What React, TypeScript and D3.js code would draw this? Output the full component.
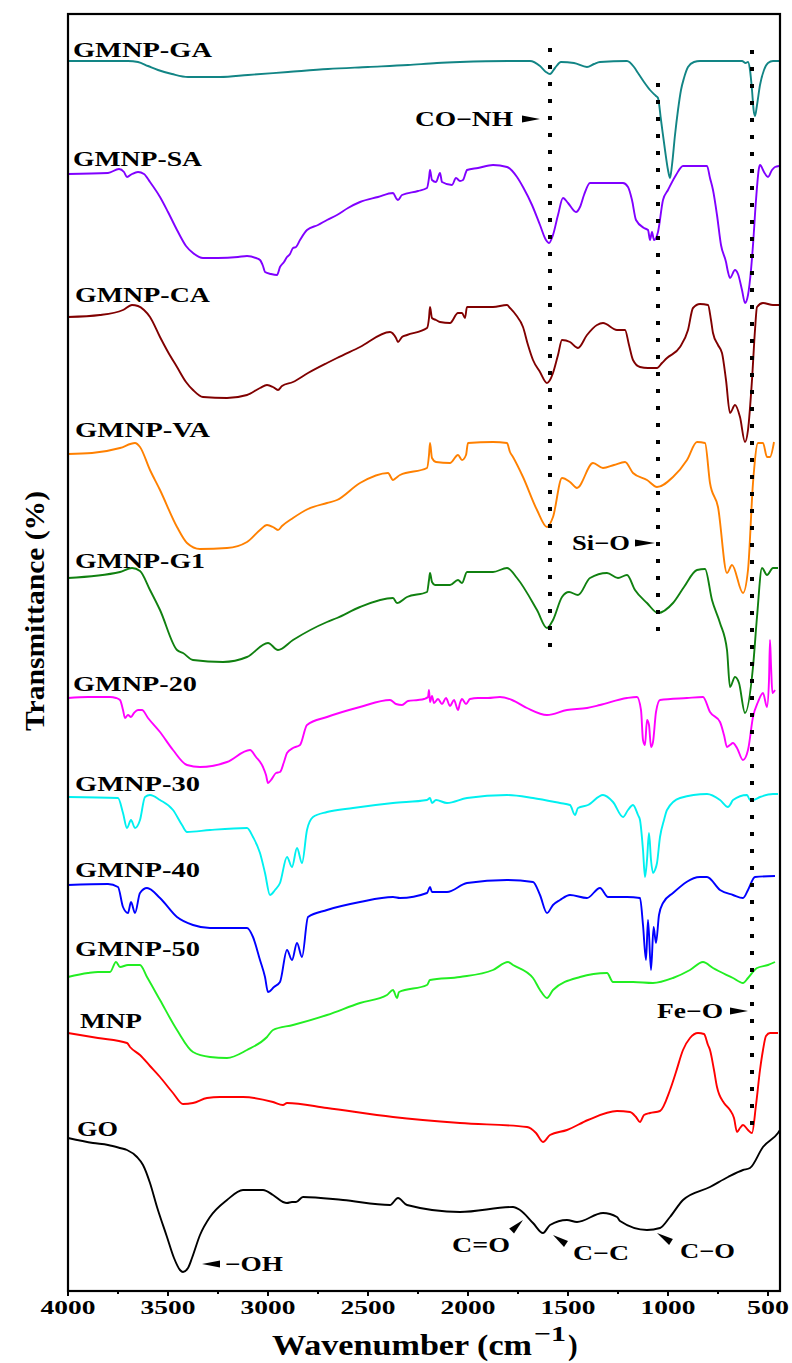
import React from "react";
import * as d3 from "d3";

// ---------- data (wavenumber cm^-1, stacked transmittance a.u.) ----------
const majorTicks = [4000, 3500, 3000, 2500, 2000, 1500, 1000, 500];
const minorTicks = [3750, 3250, 2750, 2250, 1750, 1250, 750];

const seriesNames = ["GMNP-GA", "GMNP-SA", "GMNP-CA", "GMNP-VA", "GMNP-G1", "GMNP-20", "GMNP-30", "GMNP-40", "GMNP-50", "MNP", "GO"];
const seriesColors = ["#128585", "#8000ff", "#800000", "#ff8000", "#108010", "#ff00ff", "#00f0f0", "#0000ff", "#22ee22", "#ff0000", "#000000"];

const GA: [number, number][] = [[4000,1230],[3900,1230],[3700,1230],[3650,1229],[3600,1225],[3550,1221],[3480,1217],[3400,1214],[3300,1214],[3240,1214],[3100,1216],[2900,1219],[2700,1222],[2500,1224],[2300,1226],[2155,1228],[2040,1229],[1800,1230],[1690,1230],[1640,1225],[1610,1219],[1590,1217],[1565,1223],[1535,1229],[1470,1228],[1405,1224],[1370,1227],[1340,1229],[1205,1230],[1170,1224],[1150,1218],[1120,1209],[1090,1201],[1060,1195],[1050,1193],[1035,1171],[1015,1141],[1000,1121],[990,1113],[980,1126],[965,1156],[950,1181],[935,1201],[920,1213],[900,1224],[870,1229],[840,1230],[630,1230],[612,1228],[600,1229],[590,1221],[580,1201],[572,1181],[565,1175],[555,1186],[540,1206],[520,1221],[500,1228],[475,1230],[445,1230]];

const SA: [number, number][] = [[4000,1117],[3800,1118],[3745,1122],[3720,1119],[3705,1114],[3680,1117],[3650,1119],[3620,1117],[3590,1109],[3540,1094],[3500,1079],[3455,1061],[3410,1045],[3375,1038],[3325,1033],[3250,1033],[3150,1034],[3105,1035],[3060,1033],[3040,1031],[3025,1025],[3015,1019],[2985,1017],[2955,1016],[2940,1024],[2920,1029],[2905,1034],[2890,1037],[2875,1043],[2860,1044],[2840,1051],[2805,1061],[2750,1066],[2705,1071],[2655,1076],[2600,1083],[2540,1089],[2450,1094],[2375,1098],[2360,1093],[2350,1091],[2330,1096],[2250,1100],[2205,1103],[2195,1113],[2190,1121],[2180,1111],[2160,1109],[2140,1118],[2130,1109],[2080,1106],[2060,1113],[2040,1110],[2025,1111],[2010,1119],[2005,1121],[1950,1123],[1875,1126],[1805,1124],[1755,1114],[1725,1104],[1680,1086],[1640,1066],[1610,1051],[1595,1048],[1575,1056],[1550,1076],[1525,1093],[1500,1088],[1460,1079],[1440,1084],[1420,1096],[1390,1108],[1300,1108],[1225,1108],[1200,1104],[1180,1091],[1160,1071],[1120,1063],[1100,1061],[1090,1051],[1080,1059],[1070,1051],[1050,1059],[1025,1091],[1000,1101],[960,1116],[925,1125],[860,1125],[805,1125],[790,1113],[775,1101],[755,1076],[735,1046],[710,1029],[700,1019],[690,1013],[665,1021],[650,1017],[630,1001],[615,988],[600,996],[585,1021],[575,1046],[560,1091],[545,1123],[540,1126],[520,1119],[500,1114],[480,1121],[465,1124],[445,1125]];

const CA: [number, number][] = [[4000,974],[3840,976],[3725,981],[3680,986],[3650,985],[3620,981],[3590,974],[3540,954],[3500,939],[3455,924],[3410,909],[3375,901],[3325,894],[3205,893],[3105,896],[3040,903],[3005,906],[2975,904],[2950,901],[2930,905],[2875,909],[2800,918],[2705,928],[2655,933],[2540,944],[2390,959],[2360,953],[2350,949],[2330,954],[2305,956],[2205,963],[2195,973],[2190,984],[2180,973],[2160,971],[2140,969],[2090,968],[2050,978],[2030,978],[2015,973],[2005,984],[1875,984],[1805,986],[1790,983],[1760,976],[1725,964],[1700,946],[1675,931],[1640,919],[1605,908],[1590,911],[1575,918],[1550,936],[1530,951],[1490,949],[1450,943],[1405,956],[1355,966],[1325,968],[1255,961],[1215,961],[1195,946],[1175,931],[1140,924],[1100,923],[1055,923],[1030,928],[1005,933],[940,944],[900,961],[875,983],[840,987],[800,986],[785,971],[775,958],[750,946],[730,938],[710,911],[690,878],[665,886],[640,874],[615,849],[600,861],[580,911],[565,961],[555,984],[525,988],[475,986],[445,986]];

const VA: [number, number][] = [[4000,837],[3880,838],[3740,843],[3665,848],[3640,844],[3590,821],[3540,801],[3455,764],[3405,748],[3340,742],[3205,743],[3105,749],[3040,761],[3005,766],[2975,764],[2950,761],[2930,765],[2875,773],[2800,782],[2705,788],[2655,791],[2540,808],[2400,818],[2375,811],[2360,813],[2340,816],[2205,823],[2195,836],[2190,848],[2180,833],[2160,829],[2090,828],[2050,836],[2030,831],[2010,836],[2000,848],[1875,849],[1805,848],[1790,839],[1775,834],[1725,814],[1655,781],[1605,764],[1575,774],[1530,813],[1490,809],[1455,803],[1375,828],[1325,823],[1270,826],[1215,829],[1175,818],[1105,811],[1055,804],[975,814],[905,831],[855,849],[815,848],[790,808],[750,784],[705,718],[680,726],[625,698],[600,721],[575,808],[550,848],[525,848],[505,834],[490,834],[470,849]];

const G1: [number, number][] = [[4000,713],[3740,719],[3680,723],[3640,720],[3590,701],[3540,681],[3455,641],[3425,638],[3375,631],[3225,629],[3105,634],[3000,648],[2950,641],[2875,651],[2705,669],[2655,673],[2540,684],[2375,693],[2355,688],[2305,694],[2205,699],[2195,711],[2190,718],[2180,709],[2165,706],[2090,706],[2050,711],[2030,708],[2005,719],[1875,719],[1805,723],[1755,713],[1655,681],[1605,663],[1575,671],[1530,694],[1495,699],[1450,696],[1390,713],[1305,718],[1250,713],[1205,716],[1165,701],[1105,688],[1050,678],[975,688],[920,704],[855,721],[815,722],[780,691],[740,668],[705,641],[690,604],[665,614],[645,608],[615,578],[575,624],[555,674],[530,723],[505,716],[475,723],[450,723]];

const G20: [number, number][] = [[4000,593],[3900,594],[3790,594],[3760,593],[3740,591],[3725,581],[3715,573],[3700,576],[3685,574],[3670,578],[3650,581],[3630,581],[3600,573],[3540,559],[3475,541],[3405,526],[3340,524],[3205,529],[3090,541],[3060,534],[3025,524],[3010,516],[3000,508],[2985,511],[2960,518],[2940,519],[2920,529],[2905,538],[2875,543],[2840,546],[2805,566],[2705,574],[2540,584],[2390,591],[2360,587],[2330,586],[2300,590],[2250,591],[2220,592],[2200,594],[2195,601],[2190,589],[2180,595],[2170,588],[2150,592],[2130,587],[2110,593],[2090,585],[2070,591],[2050,581],[2040,588],[2030,592],[2010,587],[1990,592],[1950,593],[1900,593],[1840,594],[1780,591],[1705,583],[1605,576],[1505,581],[1405,583],[1340,586],[1205,593],[1155,594],[1135,581],[1125,551],[1115,546],[1105,571],[1095,566],[1085,544],[1075,549],[1060,579],[1040,591],[905,593],[825,594],[790,579],[740,569],[720,556],[705,544],[690,546],[675,548],[655,543],[625,531],[600,541],[575,574],[550,589],[525,598],[505,584],[495,611],[490,651],[485,626],[478,598],[465,601]];

const G30: [number, number][] = [[4000,494],[3750,493],[3725,478],[3705,463],[3685,471],[3665,463],[3640,471],[3615,494],[3590,496],[3540,491],[3475,481],[3430,466],[3405,459],[3290,461],[3105,463],[3075,454],[3040,438],[3015,418],[2990,396],[2965,401],[2940,408],[2905,434],[2880,424],[2855,443],[2830,428],[2805,461],[2775,474],[2705,479],[2575,483],[2375,488],[2205,491],[2190,493],[2180,488],[2160,491],[2105,488],[2005,493],[1805,496],[1675,493],[1540,488],[1490,486],[1465,476],[1450,483],[1400,486],[1325,496],[1275,489],[1225,474],[1200,481],[1175,486],[1150,476],[1140,471],[1125,441],[1115,414],[1105,431],[1095,458],[1085,431],[1075,418],[1065,421],[1055,428],[1040,454],[1020,471],[1005,481],[940,493],[805,497],[740,491],[700,484],[690,486],[675,491],[605,496],[590,491],[575,491],[540,494],[475,497],[450,497]];

const G40: [number, number][] = [[4000,406],[3800,407],[3750,404],[3725,384],[3700,378],[3685,389],[3665,378],[3640,398],[3605,403],[3540,393],[3455,374],[3375,366],[3290,363],[3105,363],[3075,354],[3040,331],[3015,314],[3000,299],[2970,304],[2940,309],[2905,341],[2880,331],[2855,348],[2830,334],[2800,374],[2705,381],[2540,389],[2375,394],[2340,393],[2205,398],[2190,404],[2180,399],[2105,399],[2005,408],[1805,411],[1675,409],[1640,396],[1605,378],[1575,386],[1540,391],[1490,396],[1405,393],[1340,403],[1300,394],[1205,394],[1140,393],[1125,366],[1110,331],[1100,371],[1085,321],[1072,364],[1060,348],[1045,376],[1025,388],[975,398],[840,414],[805,414],[740,401],[675,396],[625,393],[600,401],[565,414],[465,415]];

const G50: [number, number][] = [[4000,314],[3900,318],[3850,319],[3790,319],[3760,329],[3740,324],[3700,326],[3640,326],[3605,314],[3540,291],[3455,261],[3375,239],[3290,234],[3205,233],[3105,241],[3005,254],[2975,261],[2875,266],[2705,276],[2540,288],[2405,296],[2375,301],[2355,293],[2345,299],[2205,306],[2190,311],[2040,314],[1875,321],[1800,329],[1775,326],[1675,313],[1640,301],[1605,293],[1575,301],[1440,314],[1305,318],[1275,309],[1175,309],[1075,308],[975,313],[890,321],[825,329],[775,323],[675,313],[625,308],[600,313],[555,323],[500,326],[465,329]];

const MNP: [number, number][] = [[4000,258],[3850,253],[3705,248],[3690,244],[3640,236],[3590,225],[3540,214],[3475,198],[3425,187],[3375,188],[3305,193],[3240,194],[3125,194],[2975,189],[2925,186],[2905,188],[2705,183],[2375,174],[2040,168],[1705,164],[1660,158],[1625,149],[1590,156],[1505,161],[1400,171],[1255,180],[1190,179],[1160,174],[1140,169],[1120,176],[1090,178],[1040,180],[990,201],[960,219],[925,241],[890,253],[850,258],[820,257],[800,246],[790,241],[770,221],[755,204],[720,188],[690,181],[670,173],[655,159],[640,163],[625,166],[600,161],[580,158],[560,186],[540,221],[525,241],[510,255],[490,258],[450,258]];

const GO: [number, number][] = [[4000,153],[3875,148],[3800,146],[3740,143],[3705,141],[3655,134],[3625,126],[3590,108],[3555,84],[3505,54],[3470,33],[3440,21],[3425,19],[3400,23],[3380,33],[3340,56],[3290,74],[3205,91],[3125,101],[3025,101],[2975,96],[2925,89],[2905,88],[2880,89],[2860,89],[2825,94],[2625,91],[2390,86],[2350,93],[2305,86],[2040,79],[1775,84],[1740,81],[1675,68],[1625,58],[1590,66],[1505,71],[1455,69],[1325,78],[1255,74],[1240,70],[1105,61],[1040,63],[990,74],[925,91],[790,104],[700,114],[625,121],[590,123],[525,144],[450,158],[440,161]];

const seriesData = [GA, SA, CA, VA, G1, G20, G30, G40, G50, MNP, GO];

// marker lines (wavenumber) and their vertical extent (a.u.)
const markerWn = [1590, 1050, 580];
const markerTop = [1243, 1208, 1241];
const markerBottom = [638, 651, 156];

// ---------- layout ----------
const W = 792, H = 1363;
const L = 68, R = 780, T = 14, B = 1291;
const labelStartWn = [3975, 3975, 3965, 3965, 3965, 3975, 3965, 3965, 3965, 3940, 3955];
const labelBaseV = [1234, 1125, 989, 854, 723, 600, 500, 414, 335, 263, 155];
const labelLen = [139, 129, 135, 135, 130, 124, 125, 125, 125, 62, 41];

const x = d3.scaleLinear().domain([4000, 440]).range([L, R]);
const y = d3.scaleLinear().domain([0, 1277]).range([B, T]);

const serif = "'Liberation Serif', 'Times New Roman', serif";

function tri(tipX: number, tipY: number, baseX: number, baseY: number, hw: number) {
  const dx = tipX - baseX, dy = tipY - baseY;
  const len = Math.hypot(dx, dy) || 1;
  const nx = -dy / len, ny = dx / len;
  return `M${tipX},${tipY}L${baseX + nx * hw},${baseY + ny * hw}L${baseX - nx * hw},${baseY - ny * hw}Z`;
}

export default function App() {
  const line = d3
    .line<[number, number]>()
    .x((d) => x(d[0]))
    .y((d) => y(d[1]))
    .curve(d3.curveMonotoneX);

  const ann = [
    { t: "CO\u2212NH", s: 2265, e: 1775, v: 1165, tip: [1640, 1172], base: [1730, 1172] },
    { t: "Si\u2212O", s: 1480, e: 1190, v: 741, tip: [1065, 748], base: [1165, 748] },
    { t: "Fe\u2212O", s: 1055, e: 725, v: 273, tip: [600, 280], base: [690, 280] },
    { t: "\u2212OH", s: 3215, e: 2925, v: 20, tip: [3330, 27], base: [3240, 27] },
    { t: "C=O", s: 2080, e: 1790, v: 39, tip: [1725, 71], base: [1782, 60] },
    { t: "C\u2212C", s: 1475, e: 1195, v: 31, tip: [1575, 56], base: [1510, 47] },
    { t: "C\u2212O", s: 940, e: 665, v: 33, tip: [1055, 58], base: [985, 49] },
  ];

  return (
    <svg width={W} height={H} style={{ position: "absolute", left: 0, top: 0, background: "#fff" }} fontFamily={serif}>
      <rect x={0} y={0} width={W} height={H} fill="#fff" />
      {seriesData.map((d, i) => (
        <path key={i} d={line(d) || ""} fill="none" stroke={seriesColors[i]} strokeWidth={1.9} strokeLinejoin="round" />
      ))}
      {markerWn.map((w, i) => (
        <line key={i} x1={x(w)} x2={x(w)} y1={y(markerTop[i])} y2={y(markerBottom[i])} stroke="#000" strokeWidth={4} strokeDasharray="4 13" />
      ))}
      {seriesNames.map((n, i) => (
        <text key={n} x={x(labelStartWn[i])} y={y(labelBaseV[i])} fontSize={22} fontWeight="bold" textLength={labelLen[i]} lengthAdjust="spacingAndGlyphs" fill="#000">
          {n}
        </text>
      ))}
      {ann.map((a, i) => (
        <g key={i}>
          <text x={x(a.s)} y={y(a.v)} fontSize={21} fontWeight="bold" textLength={x(a.e) - x(a.s)} lengthAdjust="spacingAndGlyphs">
            {a.t}
          </text>
          <path d={tri(x(a.tip[0]), y(a.tip[1]), x(a.base[0]), y(a.base[1]), 3.5)} fill="#000" />
        </g>
      ))}
      <rect x={L} y={T} width={R - L} height={B - T} fill="none" stroke="#000" strokeWidth={2.2} />
      {majorTicks.map((t) => (
        <g key={t}>
          <line x1={x(t)} x2={x(t)} y1={B} y2={B + 5} stroke="#000" strokeWidth={2} />
          <text x={x(t)} y={B + 23} textAnchor="middle" fontSize={18} fontWeight="bold" textLength={t >= 1000 ? 55 : 42} lengthAdjust="spacingAndGlyphs">
            {t}
          </text>
        </g>
      ))}
      {minorTicks.map((t) => (
        <line key={t} x1={x(t)} x2={x(t)} y1={B} y2={B + 3} stroke="#000" strokeWidth={2} />
      ))}
      <text x={272} y={1355} fontSize={29} fontWeight="bold" textLength={260} lengthAdjust="spacingAndGlyphs">
        Wavenumber (cm
      </text>
      <text x={534} y={1341} fontSize={22} fontWeight="bold" textLength={32} lengthAdjust="spacingAndGlyphs">
        {"\u22121"}
      </text>
      <text x={568} y={1355} fontSize={29} fontWeight="bold">
        )
      </text>
      <text transform={`translate(44,611) rotate(-90)`} textAnchor="middle" fontSize={28} fontWeight="bold" textLength={240} lengthAdjust="spacingAndGlyphs">
        Transmittance (%)
      </text>
    </svg>
  );
}
